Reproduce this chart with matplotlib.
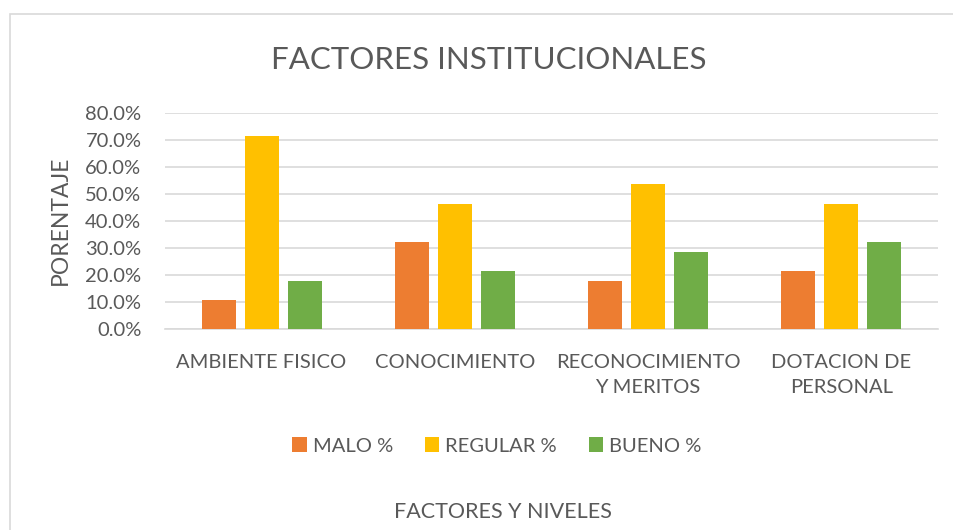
import matplotlib.pyplot as plt
from matplotlib.patches import Rectangle
from matplotlib.ticker import PercentFormatter
import numpy as np

# Datos
categorias = ["AMBIENTE FISICO", "CONOCIMIENTO", "RECONOCIMIENTO\nY MERITOS", "DOTACION DE\nPERSONAL"]
malo = [10.7, 32.1, 17.9, 21.4]
regular = [71.4, 46.4, 53.6, 46.4]
bueno = [17.9, 21.4, 28.6, 32.1]
series = [("MALO %", malo, "#ed7d31"), ("REGULAR %", regular, "#ffc000"), ("BUENO %", bueno, "#70ad47")]

plt.rcParams['font.family'] = ['Lato', 'DejaVu Sans']
gris = "#595959"

fig = plt.figure(figsize=(9.54, 5.3), dpi=100)
ax = fig.add_axes([165/954, 1 - 329/530, 773/954, 216/530])

# Marco del gráfico
fig.patches.append(Rectangle((10/954, -0.1), 1.0, 1 - 14/530 + 0.1, transform=fig.transFigure,
                             fill=False, edgecolor="#d9d9d9", linewidth=1.2))

x = np.arange(len(categorias))
ancho = 0.176
paso = 0.223
for i, (nombre, valores, color) in enumerate(series):
    ax.bar(x + (i - 1) * paso, valores, ancho, color=color, label=nombre, zorder=3)

ax.set_xlim(-0.5, len(categorias) - 0.5)
ax.set_ylim(0, 80)
ax.set_yticks(np.arange(0, 81, 10))
ax.yaxis.set_major_formatter(PercentFormatter(decimals=1))
ax.grid(axis="y", color="#d9d9d9", linewidth=1.2, zorder=0)
for s in ["top", "right", "left"]:
    ax.spines[s].set_visible(False)
ax.spines["bottom"].set_color("#d9d9d9")
ax.spines["bottom"].set_linewidth(1.2)
ax.tick_params(length=0, colors=gris, labelsize=14.5)
ax.tick_params(axis="y", pad=17)
ax.tick_params(axis="x", pad=18)
ax.set_xticks(x)
ax.set_xticklabels(categorias, linespacing=1.55)

fig.text(489/954, 1 - 60/530, "FACTORES INSTITUCIONALES", ha="center", va="center", fontsize=22.5, color=gris)
fig.text(60/954, 1 - 220/530, "PORENTAJE", ha="center", va="center", rotation=90, fontsize=16.5, color=gris)
fig.text(503/954, 1 - 512/530, "FACTORES Y NIVELES", ha="center", va="center", fontsize=15.5, color=gris)

fig.legend(loc="center", bbox_to_anchor=(497/954, 1 - 446/530), ncol=3, frameon=False,
           fontsize=14.5, labelcolor=gris, handlelength=0.7, handleheight=0.7,
           handletextpad=0.3, columnspacing=1.6)

plt.savefig("out.png", dpi=100)
